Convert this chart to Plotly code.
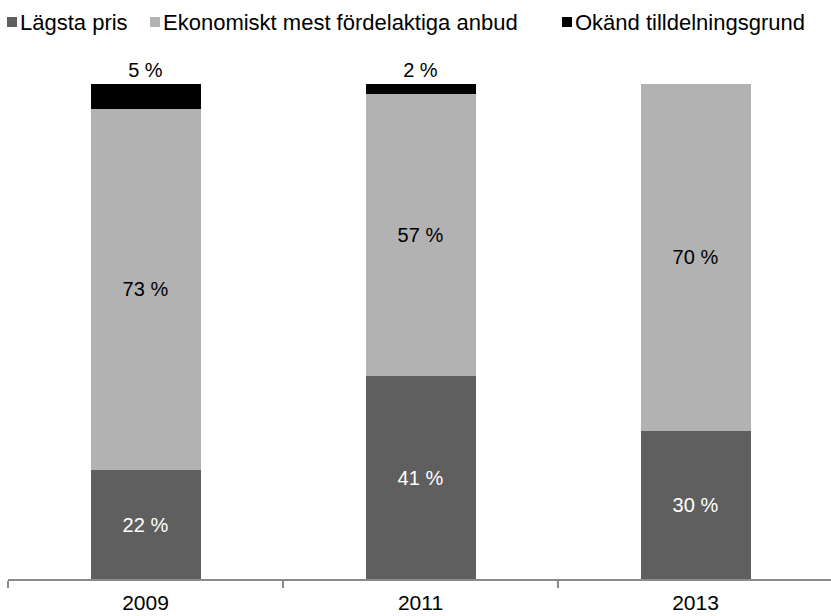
import plotly.graph_objects as go

years = ["2009", "2011", "2013"]
lagsta_pris = [22, 41, 30]
ekonomiskt = [73, 57, 70]
okand = [5, 2, 0]

series_names = ["Lägsta pris", "Ekonomiskt mest fördelaktiga anbud", "Okänd tilldelningsgrund"]
series_colors = ["#5f5f5f", "#b2b2b2", "#000000"]

W, H = 831, 616
L, R, T, B = 8, 0, 84, 37
FONT = "Liberation Sans, Arial, sans-serif"
FS = 20
LEG_FS = 22


def pct(values):
    return [f"{v} %" if v else "" for v in values]


fig = go.Figure()
fig.add_trace(go.Bar(
    x=years, y=lagsta_pris, name=series_names[0], marker_color=series_colors[0],
    text=pct(lagsta_pris), textposition="inside", insidetextanchor="middle",
    textangle=0, insidetextfont=dict(color="white", size=FS, family=FONT),
    width=0.4, marker_line_width=0,
))
fig.add_trace(go.Bar(
    x=years, y=ekonomiskt, name=series_names[1], marker_color=series_colors[1],
    text=pct(ekonomiskt), textposition="inside", insidetextanchor="middle",
    textangle=0, insidetextfont=dict(color="black", size=FS, family=FONT),
    width=0.4, marker_line_width=0,
))
fig.add_trace(go.Bar(
    x=years, y=okand, name=series_names[2], marker_color=series_colors[2],
    text=pct(okand), textposition="outside", textangle=0,
    outsidetextfont=dict(color="black", size=FS, family=FONT),
    width=0.4, marker_line_width=0, cliponaxis=False,
))

plot_w = W - L - R
plot_h = H - T - B


def px_x(px):
    return (px - L) / plot_w


def px_y(py):
    return (H - B - py) / plot_h


# Legend row drawn as small squares with labels
legend_items = [(7, series_names[0], series_colors[0]),
                (150, series_names[1], series_colors[1]),
                (562, series_names[2], series_colors[2])]
shapes = []
annotations = []
for x0, label, color in legend_items:
    shapes.append(dict(type="rect", xref="paper", yref="paper",
                       x0=px_x(x0), x1=px_x(x0 + 10), y0=px_y(27), y1=px_y(17),
                       fillcolor=color, line_width=0))
    annotations.append(dict(xref="paper", yref="paper", x=px_x(x0 + 11), y=px_y(22),
                            xanchor="left", yanchor="middle", showarrow=False,
                            text=label, font=dict(size=LEG_FS, family=FONT, color="black")))

n = len(years)
fig.update_layout(
    width=W, height=H,
    margin=dict(l=L, r=R, t=T, b=B, pad=0),
    barmode="stack",
    showlegend=False,
    plot_bgcolor="white", paper_bgcolor="white",
    font=dict(family=FONT, size=FS, color="black"),
    shapes=shapes, annotations=annotations,
    xaxis=dict(
        type="category", range=[-0.5, n - 0.5 - 2 / 275],
        showline=True, linecolor="#8a8a8a", linewidth=1.5,
        ticks="outside", tickson="boundaries", ticklen=7, tickcolor="#8a8a8a", tickwidth=1.5,
        ticklabelstandoff=4,
        showgrid=False, tickfont=dict(size=21, family=FONT, color="black"),
    ),
    yaxis=dict(range=[0, 100], visible=False, showgrid=False, zeroline=False),
)

fig.write_html("out.html")
